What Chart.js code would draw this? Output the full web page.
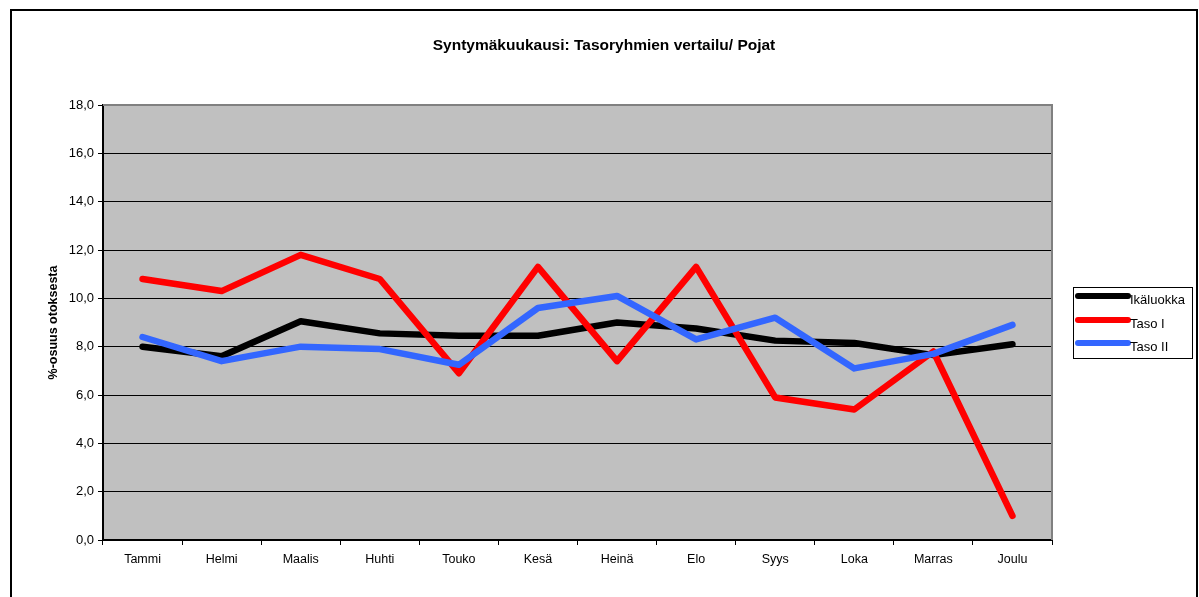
<!DOCTYPE html>
<html lang="fi">
<head>
<meta charset="UTF-8">
<title>Syntymäkuukausi: Tasoryhmien vertailu/ Pojat</title>
<script src="https://cdn.jsdelivr.net/npm/chart.js"></script>
<style>
  body { margin: 0; background: #fff; }
  canvas { display: block; }
</style>
</head>
<body>
<canvas id="kaavio" width="1199" height="597"></canvas>
<script>
const kuukaudet = ['Tammi', 'Helmi', 'Maalis', 'Huhti', 'Touko', 'Kesä', 'Heinä', 'Elo', 'Syys', 'Loka', 'Marras', 'Joulu'];
const ikaluokka = [8.0, 7.6, 9.05, 8.55, 8.45, 8.45, 9.0, 8.75, 8.25, 8.15, 7.65, 8.1];
const tasoI = [10.8, 10.3, 11.8, 10.8, 6.9, 11.3, 7.4, 11.3, 5.9, 5.4, 7.8, 1.0];
const tasoII = [8.4, 7.4, 8.0, 7.9, 7.25, 9.6, 10.1, 8.3, 9.2, 7.1, 7.7, 8.9];
const yTicks = [0, 2, 4, 6, 8, 10, 12, 14, 16, 18];

const fontti = 'Arial, "Liberation Sans", sans-serif';

// tausta, kehys, otsikko ja selite piirretään itse
const koristeet = {
  id: 'koristeet',
  beforeDraw(chart) {
    const { ctx, chartArea: a } = chart;
    ctx.save();
    ctx.fillStyle = '#fff';
    ctx.fillRect(0, 0, chart.width, chart.height);
    ctx.strokeStyle = '#000';
    ctx.lineWidth = 2;
    ctx.strokeRect(11, 10, 1186, 620);
    ctx.fillStyle = '#c0c0c0';
    ctx.fillRect(a.left, a.top, a.right - a.left, a.bottom - a.top);
    ctx.restore();
  },
  afterDraw(chart) {
    const { ctx, chartArea: a } = chart;
    ctx.save();
    // harmaa reuna ylhäällä ja oikealla
    ctx.strokeStyle = '#808080';
    ctx.lineWidth = 2;
    ctx.beginPath();
    ctx.moveTo(a.left, a.top);
    ctx.lineTo(a.right, a.top);
    ctx.lineTo(a.right, a.bottom);
    ctx.stroke();

    ctx.fillStyle = '#000';
    ctx.font = 'bold 15.5px ' + fontti;
    ctx.textAlign = 'center';
    ctx.textBaseline = 'middle';
    ctx.fillText('Syntymäkuukausi: Tasoryhmien vertailu/ Pojat', 604, 46);

    // selite
    ctx.strokeStyle = '#000';
    ctx.lineWidth = 1;
    ctx.strokeRect(1073.5, 287.5, 119, 71);
    ctx.font = '13px ' + fontti;
    ctx.textAlign = 'left';
    const sarjat = chart.data.datasets;
    const rivit = [296, 320, 343];
    sarjat.forEach((s, i) => {
      ctx.strokeStyle = s.borderColor;
      ctx.lineWidth = 6;
      ctx.lineCap = 'round';
      ctx.beginPath();
      ctx.moveTo(1078, rivit[i]);
      ctx.lineTo(1128, rivit[i]);
      ctx.stroke();
      ctx.fillStyle = '#000';
      ctx.fillText(s.label, 1130, rivit[i] + 4);
    });
    ctx.restore();
  }
};

const viiva = (label, data, color, order) => ({
  label, data,
  borderColor: color,
  backgroundColor: color,
  borderWidth: 6.5,
  pointRadius: 0,
  tension: 0,
  borderCapStyle: 'round',
  borderJoinStyle: 'round',
  order
});

new Chart(document.getElementById('kaavio'), {
  type: 'line',
  data: {
    labels: kuukaudet,
    datasets: [
      viiva('Ikäluokka', ikaluokka, '#000000', 3),
      viiva('Taso I', tasoI, '#ff0000', 2),
      viiva('Taso II', tasoII, '#3366ff', 1)
    ]
  },
  options: {
    responsive: false,
    animation: false,
    layout: { padding: { left: 42, right: 147, top: 105, bottom: 0 } },
    plugins: { legend: { display: false }, title: { display: false }, tooltip: { enabled: false } },
    scales: {
      x: {
        offset: true,
        afterFit: s => { s.height = 57; },
        grid: { offset: true, drawOnChartArea: false, drawTicks: true, tickLength: 5, color: '#000' },
        border: { color: '#000', width: 2 },
        ticks: { color: '#000', font: { family: fontti, size: 12.5 }, padding: 7, maxRotation: 0, autoSkip: false }
      },
      y: {
        min: 0, max: 18,
        afterFit: s => { s.width = 61; },
        afterBuildTicks: s => { s.ticks = yTicks.map(v => ({ value: v })); },
        grid: { color: '#000', lineWidth: 1, tickLength: 5 },
        border: { color: '#000', width: 2 },
        ticks: {
          color: '#000', padding: 4,
          font: { family: fontti, size: 13 },
          callback: v => v.toFixed(1).replace('.', ',')
        },
        title: {
          display: true, text: '%-osuus otoksesta', color: '#000',
          font: { family: fontti, size: 12.5, weight: 'bold' },
          padding: { top: 4, bottom: 0 }
        }
      }
    }
  },
  plugins: [koristeet]
});
</script>
</body>
</html>
